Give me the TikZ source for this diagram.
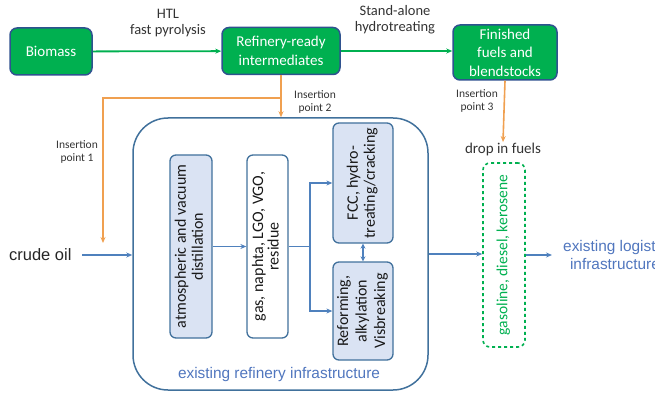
\documentclass[tikz,border=0pt]{standalone}
\usepackage{fontspec}
\setmainfont{Carlito}
\newfontfamily\arialfont{Liberation Sans}
\usetikzlibrary{arrows.meta}
\definecolor{biogreen}{RGB}{0,176,80}
\definecolor{boxblue}{RGB}{47,82,143}
\definecolor{refblue}{RGB}{65,113,156}
\definecolor{flowblue}{RGB}{79,129,189}
\definecolor{lightblue}{RGB}{218,227,243}
\definecolor{insorange}{RGB}{240,160,80}
\definecolor{textblue}{RGB}{80,118,190}
\tikzset{
  greenbox/.style={draw=boxblue, fill=biogreen, line width=1.5pt, rounded corners=7pt, text=white, align=center, font=\fontsize{15}{18.5}\selectfont, inner sep=0pt},
  procbox/.style={draw=refblue, fill=lightblue, line width=1.3pt, rounded corners=6pt, inner sep=0pt, text=black!90, font=\fontsize{16}{17}\selectfont},
  plainbox/.style={procbox, fill=white},
  refbox/.style={draw=refblue, line width=1.5pt, rounded corners=35pt, inner sep=0pt},
  dropbox/.style={draw=biogreen, dashed, line width=1.6pt, rounded corners=7pt, inner sep=0pt, text=biogreen, font=\fontsize{15.5}{17}\selectfont},
  greenflow/.style={draw=biogreen, line width=1.8pt, -{Stealth[length=6pt,width=5pt]}},
  insflow/.style={draw=insorange, line width=1.6pt, -{Stealth[length=6pt,width=5pt]}},
  blueflow/.style={draw=flowblue, line width=1.4pt, -{Stealth[length=6pt,width=5pt]}},
  steplabel/.style={align=center, text=black!80, font=\fontsize{14.5}{16}\selectfont},
  inslabel/.style={align=center, text=black!80, font=\fontsize{11.5}{13}\selectfont},
  bluelabel/.style={align=center, text=textblue, font=\arialfont\fontsize{15.4}{18}\selectfont},
}
\newcommand{\upright}[1]{\rotatebox{90}{\begin{tabular}{@{}c@{}}#1\end{tabular}}}

\begin{document}
\begin{tikzpicture}[x=1pt, y=-1pt]
\useasboundingbox (0,0) rectangle (655,398);
\clip (0,0) rectangle (655,398);
% top row
\node[greenbox, minimum width=82pt, minimum height=47pt] (bio) at (51,51.5) {Biomass};
\node[greenbox, minimum width=118pt, minimum height=47pt] (rri) at (281,51) {Refinery-ready\\intermediates};
\node[greenbox, minimum width=104pt, minimum height=55pt] (fin) at (505,52.5) {Finished\\fuels and\\blendstocks};
\node[steplabel] (htl) at (168,23) {HTL\\fast pyrolysis};
\node[steplabel] (sah) at (395,20) {Stand-alone\\hydrotreating};
\draw[greenflow] (bio) -- (rri);
\draw[greenflow] (rri.east) -- (rri.east -| fin.west);
% refinery
\node[refbox, minimum width=295pt, minimum height=272pt] (ref) at (280.5,254) {};
\node[procbox, minimum width=42pt, minimum height=183pt] (atm) at (191,246.5) {\upright{atmospheric and vacuum\\distillation}};
\node[plainbox, minimum width=41pt, minimum height=183pt, font=\fontsize{16}{14.5}\selectfont] (gas) at (267.5,246.5) {\upright{gas, naphta, LGO, VGO,\\residue}};
\node[procbox, minimum width=60pt, minimum height=120pt] (fcc) at (363,183) {\upright{FCC, hydro-\\treating/cracking}};
\node[procbox, minimum width=60pt, minimum height=98pt, font=\fontsize{16}{18.5}\selectfont] (refm) at (363,311) {\upright{Reforming,\\alkylation\\Visbreaking}};
\node[bluelabel] (reflabel) at (279,375) {existing refinery infrastructure};
\node[dropbox, minimum width=42pt, minimum height=184pt] (drop) at (504,255) {\upright{gasoline, diesel, kerosene}};
\node[steplabel, font=\fontsize{15}{17}\selectfont] (droplabel) at (503,150) {drop in fuels};
\node[anchor=east, font=\arialfont\fontsize{16.5}{18}\selectfont, text=black!85] (crude) at (75,255) {crude oil};
\node[bluelabel, anchor=west, inner sep=0pt] (logi) at (563,255) {existing logistic\\infrastructure};
% flows
\coordinate (split) at (310,246.5);
\coordinate (ins1) at (103,243);
\coordinate (ins1top) at (103,98);
\draw[blueflow] ([xshift=7pt]crude.east) -- (crude.east -| ref.west);
\draw[blueflow] (atm) -- (gas);
\draw[draw=flowblue, line width=1.4pt] (gas.east) -- (split);
\draw[blueflow] (split) |- (fcc);
\draw[blueflow] (split) |- (refm);
\draw[blueflow, {Stealth[length=5pt,width=5pt]}-{Stealth[length=5pt,width=5pt]}] (fcc) -- (refm);
\draw[blueflow] (ref.east) -- (ref.east -| drop.west);
\draw[blueflow] (drop.east) -- ([xshift=-11pt]logi.west);
% insertion points
\draw[insflow] (rri.south) -- (rri.south |- ref.north);
\draw[insflow] (rri.south |- ins1top) -- (ins1top) -- (ins1);
\draw[insflow] (fin.south) -- ([yshift=-2pt]droplabel.north);
\node[inslabel] (ip1) at (77,152) {Insertion\\point 1};
\node[inslabel] (ip2) at (315,102) {Insertion\\point 2};
\node[inslabel] (ip3) at (477,101) {Insertion\\point 3};
\end{tikzpicture}
\end{document}
